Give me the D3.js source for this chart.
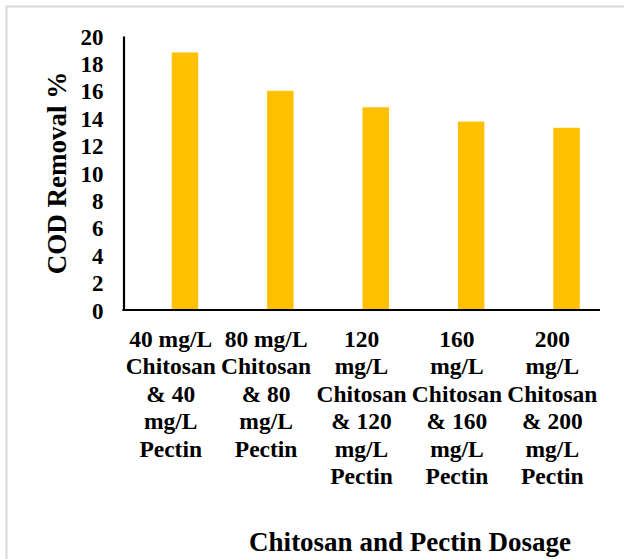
<!DOCTYPE html>
<html>
<head>
<meta charset="utf-8">
<script src="https://cdn.jsdelivr.net/npm/d3@7"></script>
<style>
  html, body { margin: 0; padding: 0; background: #fff; }
  svg { display: block; }
</style>
</head>
<body>
<svg id="chart" width="624" height="559"></svg>
<script>
const categories = [
  "40 mg/L Chitosan & 40 mg/L Pectin",
  "80 mg/L Chitosan & 80 mg/L Pectin",
  "120 mg/L Chitosan & 120 mg/L Pectin",
  "160 mg/L Chitosan & 160 mg/L Pectin",
  "200 mg/L Chitosan & 200 mg/L Pectin"
];
const categoryLines = [
  ["40 mg/L", "Chitosan", "& 40", "mg/L", "Pectin"],
  ["80 mg/L", "Chitosan", "& 80", "mg/L", "Pectin"],
  ["120", "mg/L", "Chitosan", "& 120", "mg/L", "Pectin"],
  ["160", "mg/L", "Chitosan", "& 160", "mg/L", "Pectin"],
  ["200", "mg/L", "Chitosan", "& 200", "mg/L", "Pectin"]
];
const codRemoval = [18.8, 16.0, 14.8, 13.75, 13.3];
const yTicks = [0, 2, 4, 6, 8, 10, 12, 14, 16, 18, 20];
const yTitle = "COD Removal %";
const xTitle = "Chitosan and Pectin Dosage";

const FONT = "'Liberation Serif', monospace";

const svg = d3.select("#chart");

// outer frame
svg.append("rect")
  .attr("x", 6.5).attr("y", 6.5).attr("width", 700).attr("height", 700)
  .attr("fill", "none").attr("stroke", "#d9d9d9").attr("stroke-width", 2);

const y = d3.scaleLinear().domain([0, 20]).range([310, 36]);
// category bands follow the x axis line
const x = d3.scaleBand().domain(categories).range([123, 600]).padding(0);
// bar sits in the right part of each band (as in the clustered original)
const slot = d3.scaleBand().domain(["empty", "COD"]).range([0, x.bandwidth()])
  .paddingInner(0.07).paddingOuter(0.709);

// bars
svg.append("g").selectAll("rect")
  .data(categories)
  .join("rect")
  .attr("x", d => x(d) + slot("COD"))
  .attr("width", slot.bandwidth())
  .attr("y", (d, i) => y(codRemoval[i]))
  .attr("height", (d, i) => y(0) - y(codRemoval[i]))
  .attr("fill", "#FFC000");

// y axis
const yAxis = d3.axisLeft(y).tickValues(yTicks).tickSize(0).tickPadding(20);
const gy = svg.append("g").attr("transform", "translate(123.5,0)").call(yAxis)
  .attr("font-family", null).attr("font-size", null);
gy.select(".domain").attr("stroke", "#000").attr("stroke-width", 2.2);
gy.selectAll(".tick text")
  .style("font-family", FONT)
  .style("font-weight", "bold")
  .style("font-size", "23px")
  .attr("fill", "#000")
  .attr("dy", "0.35em");

// x axis baseline
const gx = svg.append("g").attr("transform", "translate(0,310)");
gx.append("line")
  .attr("x1", 122.4).attr("x2", 600)
  .attr("y1", 0).attr("y2", 0)
  .attr("stroke", "#000").attr("stroke-width", 2.2);

// category labels
const lbl = svg.append("g").selectAll("text")
  .data(categories)
  .join("text")
  .attr("text-anchor", "middle")
  .style("font-family", FONT)
  .style("font-weight", "bold")
  .style("font-size", "23.5px")
  .attr("transform", d => `translate(${x(d) + x.bandwidth() / 2},0)`);
lbl.each(function(d, i) {
  d3.select(this).selectAll("tspan")
    .data(categoryLines[i])
    .join("tspan")
    .attr("x", 0)
    .attr("y", (t, j) => 347 + j * 27.4)
    .text(t => t);
});

// axis titles
svg.append("text")
  .attr("transform", "translate(66,173) rotate(-90)")
  .attr("text-anchor", "middle")
  .style("font-family", FONT)
  .style("font-weight", "bold")
  .style("font-size", "27px")
  .text(yTitle);

svg.append("text")
  .attr("x", 410).attr("y", 551)
  .attr("text-anchor", "middle")
  .style("font-family", FONT)
  .style("font-weight", "bold")
  .style("font-size", "27px")
  .text(xTitle);
</script>
</body>
</html>
